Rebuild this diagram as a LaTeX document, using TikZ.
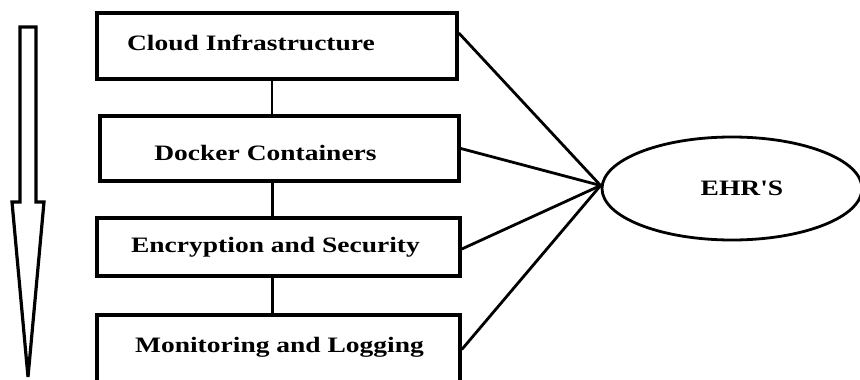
\documentclass[tikz,border=0pt]{standalone}
\usepackage{fontspec}
\setmainfont{Liberation Serif}
\newfontfamily\boxfont{Liberation Serif}[FakeStretch=1.25]
\usetikzlibrary{shapes.geometric}

\tikzset{
  layer/.style={draw, line width=3.6pt, rectangle, inner sep=0pt},
  lbl/.style={font=\boxfont\fontsize{22}{24}\selectfont\bfseries, inner sep=0pt, anchor=center},
  link/.style={line width=2.8pt},
  flowarrow/.style={draw, line width=3.2pt, line join=miter, fill=white},
}

\begin{document}
\begin{tikzpicture}[x=1pt, y=-1pt]
  \useasboundingbox (0,0) rectangle (860,380);
  \clip (0,0) rectangle (860,380);

  % downward flow arrow on the left
  \draw[flowarrow] (20,27) -- (36,27) -- (36,202) -- (44,202) -- (28,377)
        -- (12,202) -- (20,202) -- cycle;

  % stacked layers
  \node[layer, minimum width=360pt, minimum height=66pt] (c1) at (277,46) {};
  \node[layer, minimum width=359pt, minimum height=65pt] (c2) at (279.5,148.5) {};
  \node[layer, minimum width=363pt, minimum height=58pt] (c3) at (278.5,247) {};
  \node[layer, minimum width=363pt, minimum height=69pt] (c4) at (278.5,349.5) {};

  \node[lbl] (t1) at ([xshift=-26pt, yshift=3pt]c1.center) {Cloud Infrastructure};
  \node[lbl] (t2) at ([xshift=-14pt, yshift=-4pt]c2.center) {Docker Containers};
  \node[lbl] (t3) at ([xshift=-3pt]c3.center) {Encryption and Security};
  \node[lbl] (t4) at ([xshift=1pt, yshift=2pt]c4.center) {Monitoring and Logging};

  % target system
  \node[draw, ellipse, line width=2.8pt, minimum width=260pt, minimum height=103pt,
        inner sep=0pt] (ehr) at (732,188.5) {};
  \node[lbl] (te) at ([xshift=10pt]ehr.center) {EHR'S};

  % links between the layers
  \draw[link] ([xshift=-5pt]c1.south) -- ([xshift=-5pt]c1.south |- c2.north);
  \draw[link] ([xshift=-7pt]c2.south) -- ([xshift=-7pt]c2.south |- c3.north);
  \draw[link] ([xshift=-6pt]c3.south) -- ([xshift=-6pt]c3.south |- c4.north);

  % links from every layer to the system
  \draw[link] ([yshift=13pt]c1.east) -- ([yshift=3pt]ehr.west);
  \draw[link] (c2.east) -- ([yshift=3pt]ehr.west);
  \draw[link] ([yshift=-2pt]c3.east) -- ([yshift=3pt]ehr.west);
  \draw[link] (c4.east) -- ([yshift=3pt]ehr.west);
\end{tikzpicture}
\end{document}
